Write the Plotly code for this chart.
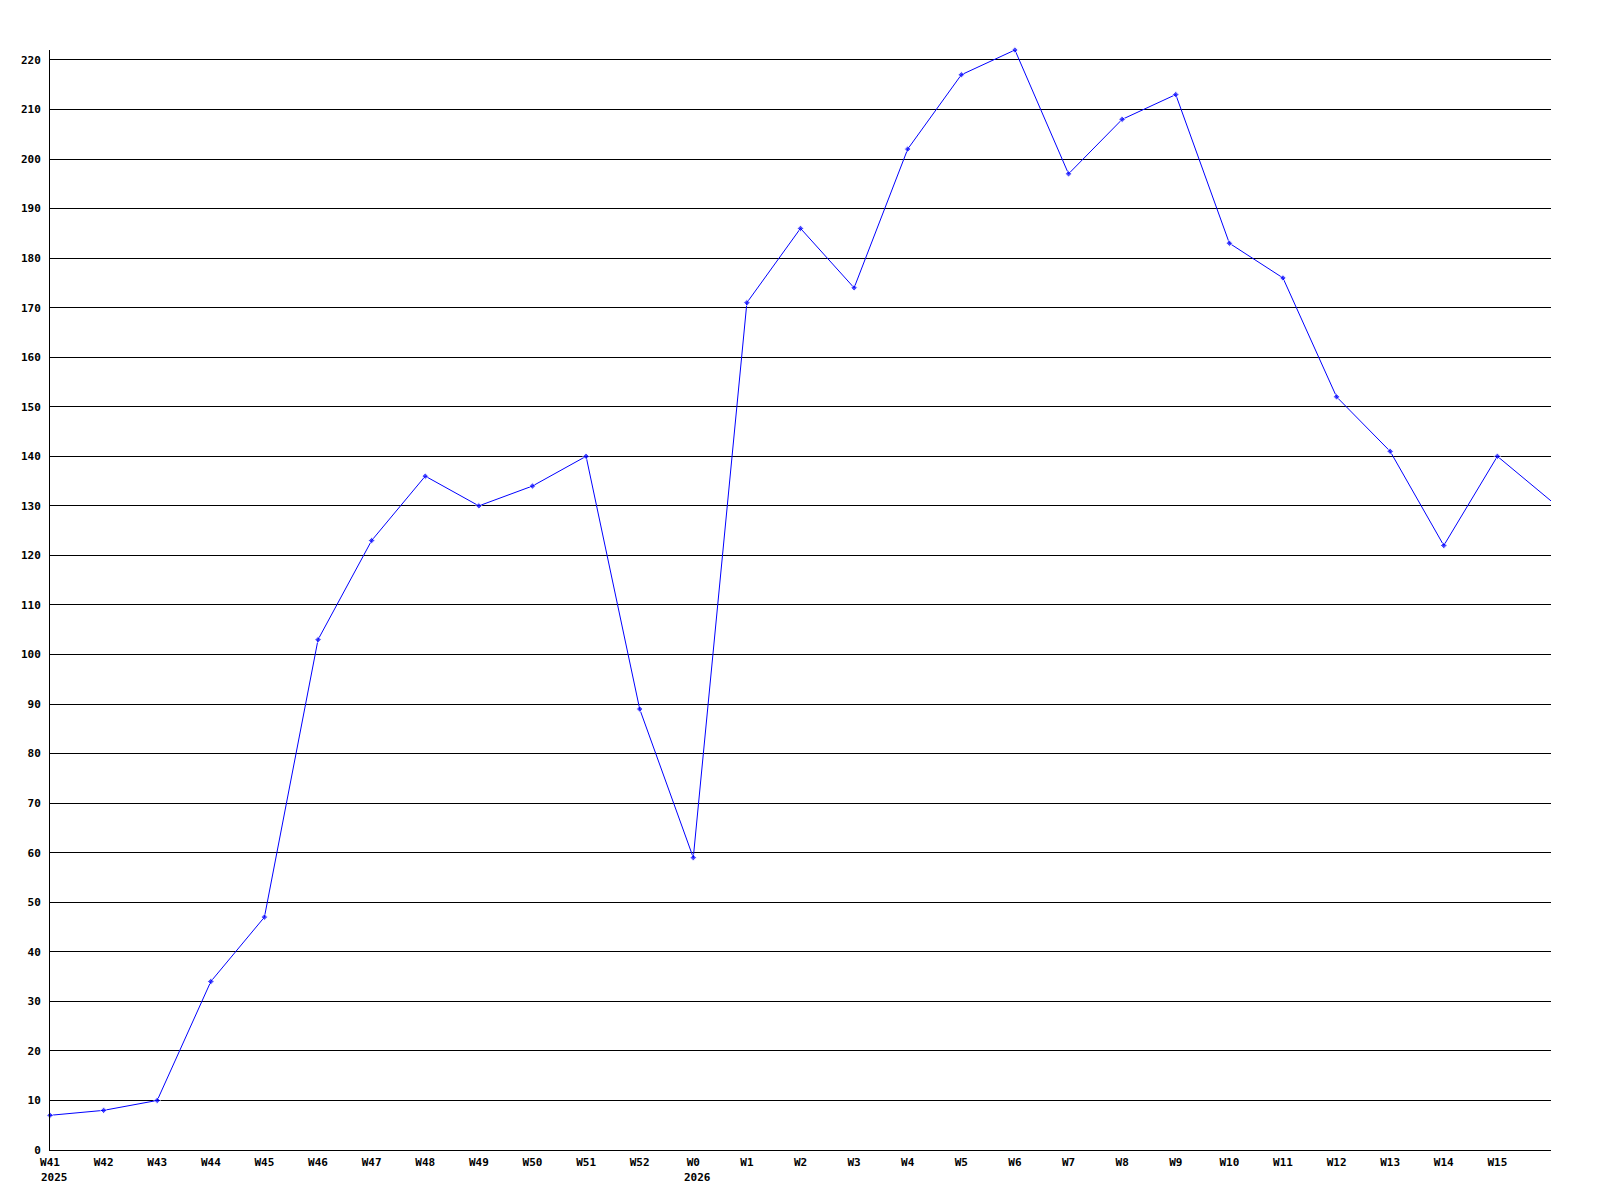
import plotly.graph_objects as go

weeks = ["W41", "W42", "W43", "W44", "W45", "W46", "W47", "W48", "W49", "W50",
         "W51", "W52", "W0", "W1", "W2", "W3", "W4", "W5", "W6", "W7", "W8",
         "W9", "W10", "W11", "W12", "W13", "W14", "W15", ""]
counts = [7, 8, 10, 34, 47, 103, 123, 136, 130, 134, 140, 89, 59, 171, 186,
          174, 202, 217, 222, 197, 208, 213, 183, 176, 152, 141, 122, 140, 131]
year_labels = {"W41": "2025", "W0": "2026"}
y_ticks = list(range(0, 230, 10))

font = dict(family="DejaVu Sans Mono", size=11, color="black", weight="bold")

x = list(range(len(weeks)))
# the trailing (unlabelled) week has no marker, only the line running into the edge
marker_sizes = [5 if w else 0 for w in weeks]

fig = go.Figure()
fig.add_trace(go.Scatter(
    x=x,
    y=counts,
    mode="lines+markers",
    line=dict(color="#0000ff", width=1),
    marker=dict(symbol="diamond", size=marker_sizes, color="#0000ff"),
    cliponaxis=False,
    showlegend=False,
))

for wk, yr in year_labels.items():
    fig.add_annotation(
        x=weeks.index(wk), y=0, xref="x", yref="paper",
        text=yr, showarrow=False, font=font,
        xanchor="left", yanchor="top", xshift=-11, yshift=-19,
    )

# page body adds an 8px offset, so the figure is sized to fit inside it
fig.update_layout(
    width=1592,
    height=1192,
    margin=dict(l=42, r=49, t=42, b=50),
    plot_bgcolor="white",
    paper_bgcolor="white",
    xaxis=dict(
        range=[0, len(weeks) - 1],
        tickmode="array",
        tickvals=x,
        ticktext=weeks,
        tickfont=font,
        showgrid=False,
        zeroline=False,
        showline=True,
        linecolor="black",
        linewidth=1,
        ticks="",
        ticklabelstandoff=2,
    ),
    yaxis=dict(
        range=[0, 222],
        tickmode="array",
        tickvals=y_ticks,
        tickfont=font,
        showgrid=True,
        gridcolor="black",
        gridwidth=1,
        zeroline=False,
        showline=True,
        linecolor="black",
        linewidth=1,
        ticks="",
        ticklabelstandoff=6,
    ),
)

fig.write_html("out.html")
